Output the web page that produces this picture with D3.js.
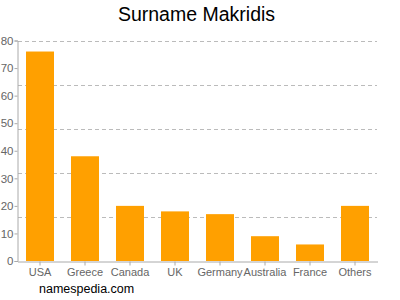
<!DOCTYPE html>
<html><head><meta charset="utf-8">
<script src="https://cdn.jsdelivr.net/npm/d3@7"></script>
<style>body{margin:0;background:#fff;}svg{display:block;font-family:"Liberation Sans",Arial,sans-serif;}</style>
</head><body>
<svg id="c" width="400" height="300"></svg>
<script>
const categories = ["USA","Greece","Canada","UK","Germany","Australia","France","Others"];
const values = [76,38,20,18,17,9,6,20];
const yTicks = [0,10,20,30,40,50,60,70,80];
const gridTicks = [16,32,48,64,80];

const svg = d3.select("#c");
const x = d3.scaleBand().domain(categories).range([17.5,377.5]).paddingInner(0.378).paddingOuter(0.189);
const y = d3.scaleLinear().domain([0,80]).range([261,40.5]);

svg.append("text").attr("x",196.5).attr("y",21).attr("text-anchor","middle")
  .attr("font-size",19.5).attr("fill","#000").text("Surname Makridis");

svg.append("g").selectAll("line").data(gridTicks).join("line")
  .attr("x1",18).attr("x2",377).attr("y1",d=>Math.round(y(d))+0.5).attr("y2",d=>Math.round(y(d))+0.5)
  .attr("stroke","#bbb").attr("stroke-dasharray","4,3").attr("stroke-width",1);

svg.append("g").selectAll("rect").data(values).join("rect")
  .attr("x",(d,i)=>x(categories[i])).attr("width",x.bandwidth())
  .attr("y",d=>y(d)).attr("height",d=>y(0)-y(d)).attr("fill","#ffa000");

const ya = svg.append("g").attr("transform","translate(17.5,0)")
  .call(d3.axisLeft(y).tickValues(yTicks).tickSize(3).tickPadding(1));
ya.select(".domain").attr("stroke","#aaa");
ya.selectAll(".tick line").attr("stroke","#aaa");
ya.selectAll(".tick text").attr("fill","#666").attr("font-size",11.5).attr("font-family","Liberation Sans, Arial, sans-serif");

const xa = svg.append("g").attr("transform","translate(0,261.5)")
  .call(d3.axisBottom(x).tickSize(4).tickSizeOuter(0).tickPadding(3));
xa.select(".domain").attr("stroke","#aaa");
xa.selectAll(".tick line").attr("stroke","#aaa");
xa.selectAll(".tick text").attr("fill","#666").attr("font-size",11).attr("font-family","Liberation Sans, Arial, sans-serif");

svg.append("text").attr("x",39).attr("y",293).attr("font-size",12.5).attr("fill","#000").text("namespedia.com");
</script>
</body></html>
